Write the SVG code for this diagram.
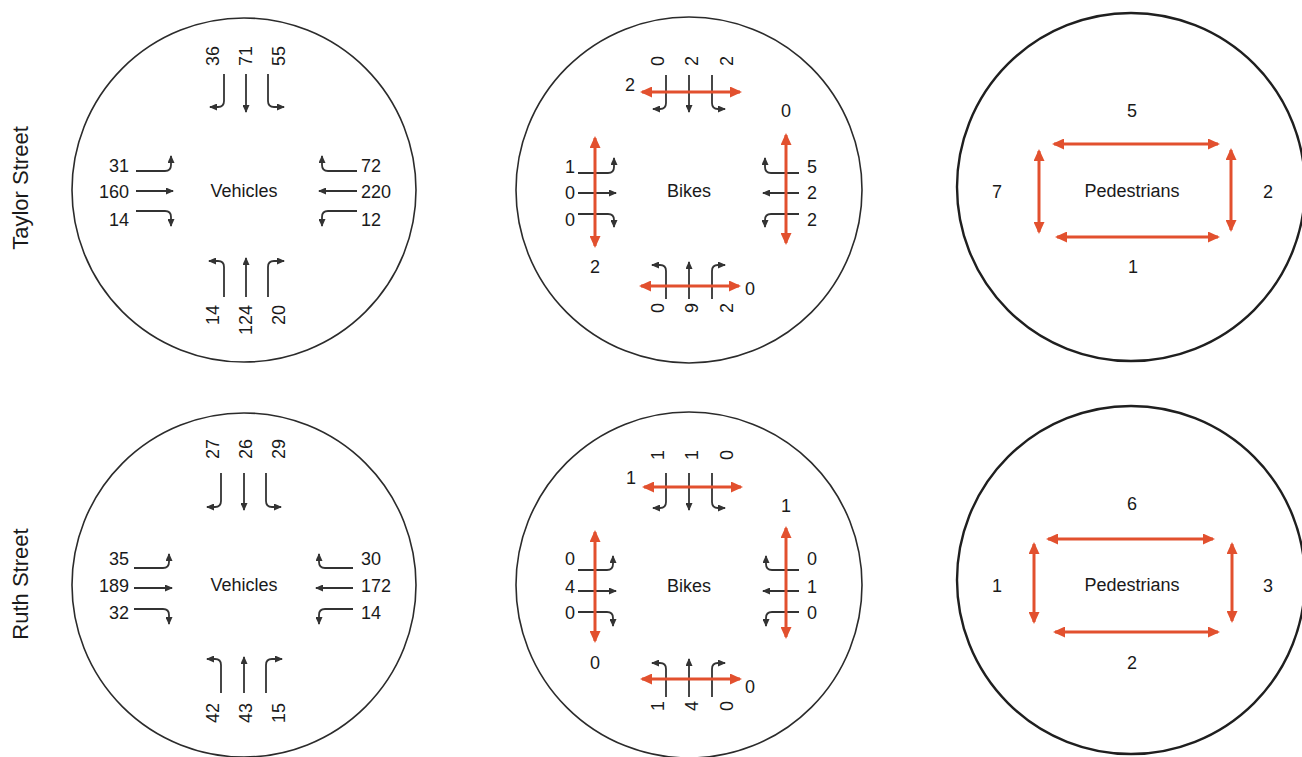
<svg xmlns="http://www.w3.org/2000/svg" width="1302" height="757" viewBox="0 0 1302 757">
  <style>
    .ring { fill: none; stroke: #2b2b2b; stroke-width: 1.6; }
    .ring-bold { fill: none; stroke: #1f1f1f; stroke-width: 2.4; }
    .mv { fill: none; stroke: #333333; stroke-width: 1.8; marker-end: url(#tip); }
    .xw { fill: none; stroke: #e2502e; stroke-width: 3; marker-start: url(#redtip); marker-end: url(#redtip); }
    text { font-family: "Liberation Sans", Arial, sans-serif; fill: #1a1a1a; }
    .num { font-size: 18px; dominant-baseline: central; }
    .title { font-size: 18px; text-anchor: middle; dominant-baseline: central; }
    .row { font-size: 22px; text-anchor: middle; dominant-baseline: central; }
    .c { text-anchor: middle; }
    .e { text-anchor: end; }
    .s { text-anchor: start; }
  </style>
  <defs>
    <marker id="tip" viewBox="0 0 8 7" refX="7" refY="3.5" markerWidth="8" markerHeight="7" markerUnits="userSpaceOnUse" orient="auto">
      <path d="M0,0 L8,3.5 L0,7 z" fill="#333333"/>
    </marker>
    <marker id="redtip" viewBox="0 0 12 11" refX="10" refY="5.5" markerWidth="12" markerHeight="11" markerUnits="userSpaceOnUse" orient="auto-start-reverse">
      <path d="M0,0 L12,5.5 L0,11 z" fill="#e2502e"/>
    </marker>
  </defs>

  <!-- row headings -->
  <g id="row-taylor">
    <text class="row" transform="translate(20,188) rotate(-90)">Taylor Street</text>
  </g>
  <g id="row-ruth">
    <text class="row" transform="translate(20,584) rotate(-90)">Ruth Street</text>
  </g>

  <!-- Taylor Street: vehicles -->
  <g id="taylor-vehicles">
    <circle class="ring" cx="244" cy="190" r="172"/>
    <text class="title" x="244" y="191">Vehicles</text>
    <g id="taylor-vehicles-moves">
      <path class="mv" d="M224 74 V101 Q224 107 218 107 H210"/>
      <path class="mv" d="M246 74 V112"/>
      <path class="mv" d="M268 74 V101 Q268 107 274 107 H284"/>
      <path class="mv" d="M136 171 H165 Q171 171 171 165 V156"/>
      <path class="mv" d="M136 191 H173"/>
      <path class="mv" d="M136 211 H165 Q171 211 171 217 V226"/>
      <path class="mv" d="M357 171 H328 Q322 171 322 165 V156"/>
      <path class="mv" d="M357 191 H319"/>
      <path class="mv" d="M357 211 H328 Q322 211 322 217 V226"/>
      <path class="mv" d="M224 297 V267 Q224 261 218 261 H209"/>
      <path class="mv" d="M246 297 V258"/>
      <path class="mv" d="M268 297 V267 Q268 261 274 261 H284"/>
    </g>
    <text class="num s" transform="translate(213,66) rotate(-90)">36</text>
    <text class="num s" transform="translate(246,66) rotate(-90)">71</text>
    <text class="num s" transform="translate(279,66) rotate(-90)">55</text>
    <text class="num e" x="129" y="166">31</text>
    <text class="num e" x="129" y="192">160</text>
    <text class="num e" x="129" y="220">14</text>
    <text class="num s" x="361" y="166">72</text>
    <text class="num s" x="361" y="192">220</text>
    <text class="num s" x="361" y="220">12</text>
    <text class="num e" transform="translate(213,305) rotate(-90)">14</text>
    <text class="num e" transform="translate(246,305) rotate(-90)">124</text>
    <text class="num e" transform="translate(279,305) rotate(-90)">20</text>
  </g>

  <!-- Taylor Street: bikes -->
  <g id="taylor-bikes">
    <circle class="ring" cx="689" cy="190" r="173"/>
    <text class="title" x="689" y="191">Bikes</text>
    <g id="taylor-bikes-moves">
      <path class="mv" d="M666 75 V103 Q666 109 660 109 H653"/>
      <path class="mv" d="M689 75 V112"/>
      <path class="mv" d="M712 75 V103 Q712 109 718 109 H725"/>
      <path class="mv" d="M578 173 H608 Q614 173 614 167 V158"/>
      <path class="mv" d="M578 193 H616"/>
      <path class="mv" d="M578 214 H608 Q614 214 614 220 V227"/>
      <path class="mv" d="M799 173 H771 Q765 173 765 167 V158"/>
      <path class="mv" d="M799 193 H763"/>
      <path class="mv" d="M799 214 H771 Q765 214 765 220 V227"/>
      <path class="mv" d="M666 299 V271 Q666 265 660 265 H652"/>
      <path class="mv" d="M689 299 V262"/>
      <path class="mv" d="M712 299 V271 Q712 265 718 265 H725"/>
    </g>
    <g id="taylor-bikes-crossings">
      <path class="xw" d="M642 92 H740"/>
      <path class="xw" d="M595 138 V246"/>
      <path class="xw" d="M786 135 V243"/>
      <path class="xw" d="M641 286 H739"/>
    </g>
    <text class="num s" transform="translate(658,66) rotate(-90)">0</text>
    <text class="num s" transform="translate(692,66) rotate(-90)">2</text>
    <text class="num s" transform="translate(727,66) rotate(-90)">2</text>
    <text class="num c" x="630" y="85">2</text>
    <text class="num c" x="786" y="111">0</text>
    <text class="num c" x="570" y="167">1</text>
    <text class="num c" x="570" y="193">0</text>
    <text class="num c" x="570" y="220">0</text>
    <text class="num c" x="595" y="267">2</text>
    <text class="num c" x="812" y="167">5</text>
    <text class="num c" x="812" y="193">2</text>
    <text class="num c" x="812" y="220">2</text>
    <text class="num c" x="750" y="289">0</text>
    <text class="num e" transform="translate(658,303) rotate(-90)">0</text>
    <text class="num e" transform="translate(692,303) rotate(-90)">9</text>
    <text class="num e" transform="translate(727,303) rotate(-90)">2</text>
  </g>

  <!-- Taylor Street: pedestrians -->
  <g id="taylor-pedestrians">
    <circle class="ring-bold" cx="1131" cy="187" r="174"/>
    <text class="title" x="1132" y="191">Pedestrians</text>
    <g id="taylor-pedestrians-crossings">
      <path class="xw" d="M1054 144 H1218"/>
      <path class="xw" d="M1057 237 H1218"/>
      <path class="xw" d="M1039 151 V232"/>
      <path class="xw" d="M1231 150 V230"/>
    </g>
    <text class="num c" x="1132" y="111">5</text>
    <text class="num c" x="997" y="192">7</text>
    <text class="num c" x="1268" y="192">2</text>
    <text class="num c" x="1133" y="267">1</text>
  </g>

  <!-- Ruth Street: vehicles -->
  <g id="ruth-vehicles">
    <circle class="ring" cx="244" cy="585" r="172"/>
    <text class="title" x="244" y="585">Vehicles</text>
    <g id="ruth-vehicles-moves">
      <path class="mv" d="M221 473 V501 Q221 507 215 507 H207"/>
      <path class="mv" d="M244 473 V510"/>
      <path class="mv" d="M266 473 V501 Q266 507 272 507 H281"/>
      <path class="mv" d="M134 568 H163 Q169 568 169 562 V554"/>
      <path class="mv" d="M134 588 H172"/>
      <path class="mv" d="M134 609 H163 Q169 609 169 615 V624"/>
      <path class="mv" d="M353 568 H325 Q319 568 319 562 V554"/>
      <path class="mv" d="M353 588 H316"/>
      <path class="mv" d="M353 609 H325 Q319 609 319 615 V624"/>
      <path class="mv" d="M221 693 V665 Q221 659 215 659 H207"/>
      <path class="mv" d="M244 693 V657"/>
      <path class="mv" d="M266 693 V665 Q266 659 272 659 H282"/>
    </g>
    <text class="num s" transform="translate(213,459) rotate(-90)">27</text>
    <text class="num s" transform="translate(246,459) rotate(-90)">26</text>
    <text class="num s" transform="translate(279,459) rotate(-90)">29</text>
    <text class="num e" x="129" y="559">35</text>
    <text class="num e" x="129" y="586">189</text>
    <text class="num e" x="129" y="613">32</text>
    <text class="num s" x="361" y="559">30</text>
    <text class="num s" x="361" y="586">172</text>
    <text class="num s" x="361" y="613">14</text>
    <text class="num e" transform="translate(213,703) rotate(-90)">42</text>
    <text class="num e" transform="translate(246,703) rotate(-90)">43</text>
    <text class="num e" transform="translate(279,703) rotate(-90)">15</text>
  </g>

  <!-- Ruth Street: bikes -->
  <g id="ruth-bikes">
    <circle class="ring" cx="689" cy="585" r="173"/>
    <text class="title" x="689" y="586">Bikes</text>
    <g id="ruth-bikes-moves">
      <path class="mv" d="M666 473 V502 Q666 508 660 508 H653"/>
      <path class="mv" d="M689 473 V510"/>
      <path class="mv" d="M712 473 V502 Q712 508 718 508 H725"/>
      <path class="mv" d="M578 570 H607 Q613 570 613 564 V556"/>
      <path class="mv" d="M578 591 H616"/>
      <path class="mv" d="M578 612 H607 Q613 612 613 618 V626"/>
      <path class="mv" d="M799 570 H772 Q766 570 766 564 V556"/>
      <path class="mv" d="M799 591 H763"/>
      <path class="mv" d="M799 612 H772 Q766 612 766 618 V626"/>
      <path class="mv" d="M666 697 V669 Q666 663 660 663 H652"/>
      <path class="mv" d="M689 697 V659"/>
      <path class="mv" d="M712 697 V669 Q712 663 718 663 H725"/>
    </g>
    <g id="ruth-bikes-crossings">
      <path class="xw" d="M644 487 H741"/>
      <path class="xw" d="M595 532 V641"/>
      <path class="xw" d="M786 528 V637"/>
      <path class="xw" d="M642 679 H740"/>
    </g>
    <text class="num s" transform="translate(658,460) rotate(-90)">1</text>
    <text class="num s" transform="translate(692,460) rotate(-90)">1</text>
    <text class="num s" transform="translate(727,460) rotate(-90)">0</text>
    <text class="num c" x="631" y="478">1</text>
    <text class="num c" x="786" y="506">1</text>
    <text class="num c" x="570" y="559">0</text>
    <text class="num c" x="570" y="587">4</text>
    <text class="num c" x="570" y="613">0</text>
    <text class="num c" x="595" y="663">0</text>
    <text class="num c" x="812" y="559">0</text>
    <text class="num c" x="812" y="587">1</text>
    <text class="num c" x="812" y="613">0</text>
    <text class="num c" x="750" y="687">0</text>
    <text class="num e" transform="translate(658,701) rotate(-90)">1</text>
    <text class="num e" transform="translate(692,701) rotate(-90)">4</text>
    <text class="num e" transform="translate(727,701) rotate(-90)">0</text>
  </g>

  <!-- Ruth Street: pedestrians -->
  <g id="ruth-pedestrians">
    <circle class="ring-bold" cx="1131" cy="580" r="174"/>
    <text class="title" x="1132" y="585">Pedestrians</text>
    <g id="ruth-pedestrians-crossings">
      <path class="xw" d="M1048 539 H1213"/>
      <path class="xw" d="M1055 632 H1218"/>
      <path class="xw" d="M1034 544 V622"/>
      <path class="xw" d="M1232 544 V621"/>
    </g>
    <text class="num c" x="1132" y="504">6</text>
    <text class="num c" x="997" y="586">1</text>
    <text class="num c" x="1268" y="586">3</text>
    <text class="num c" x="1132" y="663">2</text>
  </g>
</svg>
